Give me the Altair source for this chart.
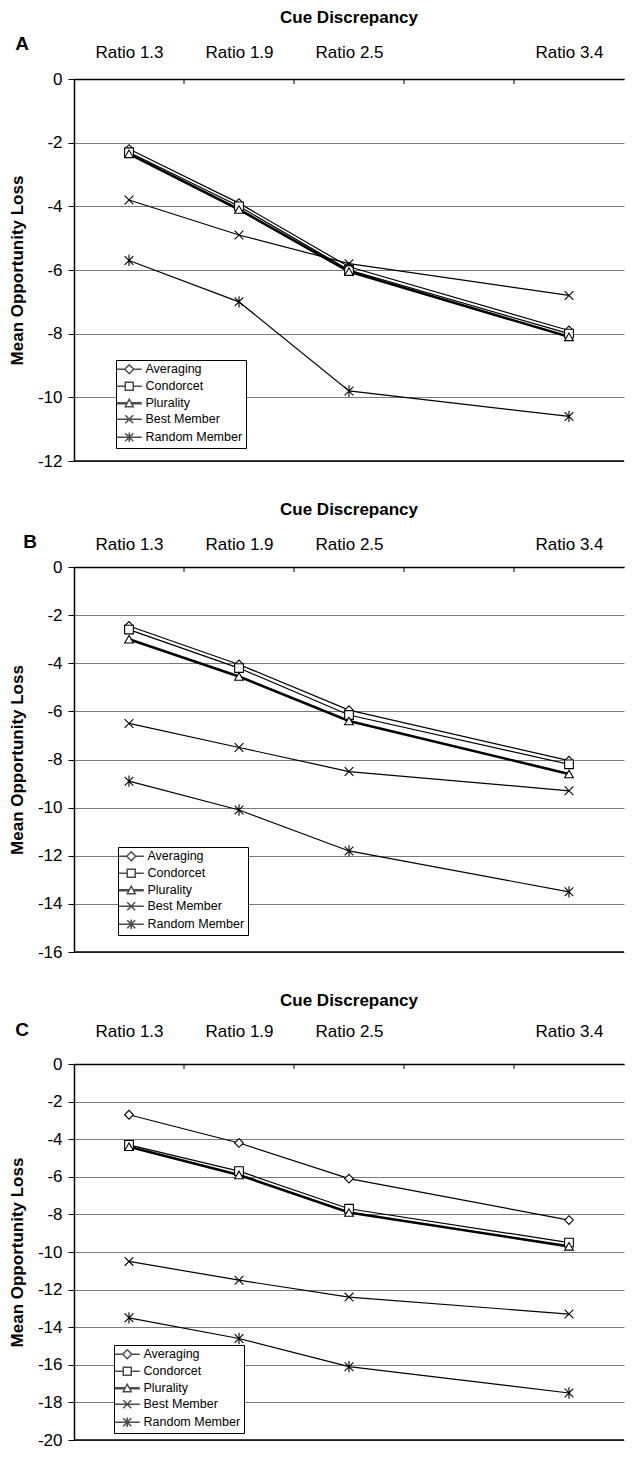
import altair as alt
import pandas as pd

FONT = "Liberation Sans"

ratio_labels = ["Ratio 1.3", "Ratio 1.9", "Ratio 2.5", "Ratio 3.4"]
ratio_pos = [0.5, 1.5, 2.5, 4.5]
band_edges = [1, 2, 3, 4]
series = ["Averaging", "Condorcet", "Plurality", "Best Member", "Random Member"]

a_averaging = [-2.2, -3.9, -5.9, -7.9]
a_condorcet = [-2.3, -4.0, -6.0, -8.0]
a_plurality = [-2.35, -4.1, -6.05, -8.1]
a_best = [-3.8, -4.9, -5.8, -6.8]
a_random = [-5.7, -7.0, -9.8, -10.6]

b_averaging = [-2.45, -4.05, -5.95, -8.05]
b_condorcet = [-2.6, -4.2, -6.15, -8.2]
b_plurality = [-3.0, -4.55, -6.4, -8.6]
b_best = [-6.5, -7.5, -8.5, -9.3]
b_random = [-8.9, -10.1, -11.8, -13.5]

c_averaging = [-2.7, -4.2, -6.1, -8.3]
c_condorcet = [-4.3, -5.7, -7.7, -9.5]
c_plurality = [-4.4, -5.9, -7.9, -9.7]
c_best = [-10.5, -11.5, -12.4, -13.3]
c_random = [-13.5, -14.6, -16.1, -17.5]

point_shapes = [
    "diamond",
    "square",
    "triangle-up",
    "M-1,-1L1,1M-1,1L1,-1",
    "M-1,-1L1,1M-1,1L1,-1M0,-1.3L0,1.3",
]
# legend symbols: short line with the marker in its middle (shifted right by 0.8)
legend_paths = [
    "M-1.7,0L-0.1,0M1.7,0L3.3,0M-0.1,0L0.8,-0.9L1.7,0L0.8,0.9Z",
    "M-1.7,0L0,0M1.6,0L3.3,0M0,-0.8L1.6,-0.8L1.6,0.8L0,0.8Z",
    "M-1.7,-0.12L0.35,-0.12M-1.7,0.12L0.35,0.12M1.25,-0.12L3.3,-0.12M1.25,0.12L3.3,0.12"
    "M0,0.7L0.8,-0.8L1.6,0.7Z",
    "M-1.7,0L3.3,0M0,-0.8L1.6,0.8M0,0.8L1.6,-0.8",
    "M-1.7,0L3.3,0M0,-0.8L1.6,0.8M0,0.8L1.6,-0.8M0.8,-0.95L0.8,0.95",
]

W = 550


def panel(letter, values, ymin, height, lab_pad, title_off, ldx, ldy, legx, legy):
    rows = []
    for s, vals in zip(series, values):
        for p, lab, v in zip(ratio_pos, ratio_labels, vals):
            rows.append({"series": s, "pos": p, "ratio": lab, "value": v})
    df = pd.DataFrame(rows)

    label_expr = " : ".join(
        f"datum.value == {p} ? '{l}'" for p, l in zip(ratio_pos, ratio_labels)
    ) + " : ''"
    yvals = list(range(ymin, 1, 2))

    xenc = alt.X(
        "pos:Q",
        scale=alt.Scale(domain=[0, 5], nice=False, zero=False),
        axis=alt.Axis(
            orient="top", values=ratio_pos, labelExpr=label_expr, ticks=False,
            tickSize=0, grid=False, domainColor="black", domainWidth=1.5,
            labelFont=FONT, labelFontSize=17, labelColor="black",
            labelPadding=lab_pad, title=None, labelOverlap=False,
        ),
    )
    yenc = alt.Y(
        "value:Q",
        scale=alt.Scale(domain=[ymin, 0], nice=False, zero=False),
        axis=alt.Axis(
            values=yvals, tickCount=len(yvals), labelOverlap=False,
            labelExpr="datum.value == 0 ? '0' : '-' + abs(datum.value)",
            title="Mean Opportunity Loss",
            titleFont=FONT, titleFontSize=17, titleFontWeight="bold",
            titleColor="black", titlePadding=11,
            labelFont=FONT, labelFontSize=17, labelColor="black", labelPadding=6,
            tickSize=6, tickColor="black", domainColor="black", domainWidth=1.5,
            grid=True, gridColor="#7a7a7a", gridWidth=1,
        ),
    )
    legend = alt.Legend(
        orient="none", legendX=legx, legendY=legy, title=None, direction="vertical",
        labelFont=FONT, labelFontSize=12.5, labelColor="black", symbolSize=100,
        strokeColor="black", fillColor="white", padding=3, rowPadding=2,
        labelOffset=14,
    )

    base = alt.Chart(df)
    lines_reg = base.transform_filter("datum.series != 'Plurality'").mark_line(
        color="black", strokeWidth=1.2
    ).encode(x=xenc, y=yenc, detail="series:N", order="pos:Q")
    lines_plu = base.transform_filter("datum.series == 'Plurality'").mark_line(
        color="black", strokeWidth=2.6
    ).encode(x=xenc, y=yenc, detail="series:N", order="pos:Q")
    pts = base.mark_point(
        size=76, fill="white", stroke="black", strokeWidth=1.1, opacity=1
    ).encode(
        x=xenc, y=yenc,
        shape=alt.Shape("series:N", scale=alt.Scale(domain=series, range=point_shapes),
                        legend=None),
    )
    ticks = alt.Chart(pd.DataFrame({"pos": band_edges})).mark_rule(
        color="black", strokeWidth=1
    ).encode(x=xenc, y=alt.value(0), y2=alt.value(5))
    bottom = alt.Chart(pd.DataFrame({"value": [ymin]})).mark_rule(
        color="black", strokeWidth=1.5
    ).encode(y=yenc, x=alt.value(0), x2=alt.value(W))
    leg = base.transform_filter("false").mark_point(color="black").encode(
        x=xenc, y=yenc,
        shape=alt.Shape("series:N", scale=alt.Scale(domain=series, range=legend_paths),
                        legend=legend),
    )
    let = alt.Chart(pd.DataFrame({"letter": [letter]})).mark_text(
        font=FONT, fontSize=19, fontWeight="bold", color="black",
        align="center", baseline="middle",
    ).encode(text="letter:N", x=alt.value(ldx), y=alt.value(ldy))

    return alt.layer(lines_reg, lines_plu, bottom, ticks, pts, leg, let).resolve_scale(
        shape="independent"
    ).properties(
        width=W, height=height,
        title=alt.TitleParams(
            "Cue Discrepancy", font=FONT, fontSize=17, fontWeight="bold",
            color="black", anchor="middle", offset=title_off,
        ),
    )


pa = panel("A", [a_averaging, a_condorcet, a_plurality, a_best, a_random],
           -12, 382, 18, 8.5, -52, -35, 42, 281)
pb = panel("B", [b_averaging, b_condorcet, b_plurality, b_best, b_random],
           -16, 385, 14, 14.5, -44, -25, 44, 280)
pc = panel("C", [c_averaging, c_condorcet, c_plurality, c_best, c_random],
           -20, 376, 24, 11.5, -52, -34, 40, 281)

chart = alt.vconcat(pa, pb, pc, spacing=31).resolve_scale(
    shape="independent"
).resolve_legend(shape="independent").configure_view(stroke=None).properties(
    padding={"left": 0, "top": 0, "right": 0, "bottom": 0}
)

chart.save("out.html", embed_options={"renderer": "svg", "actions": False})
